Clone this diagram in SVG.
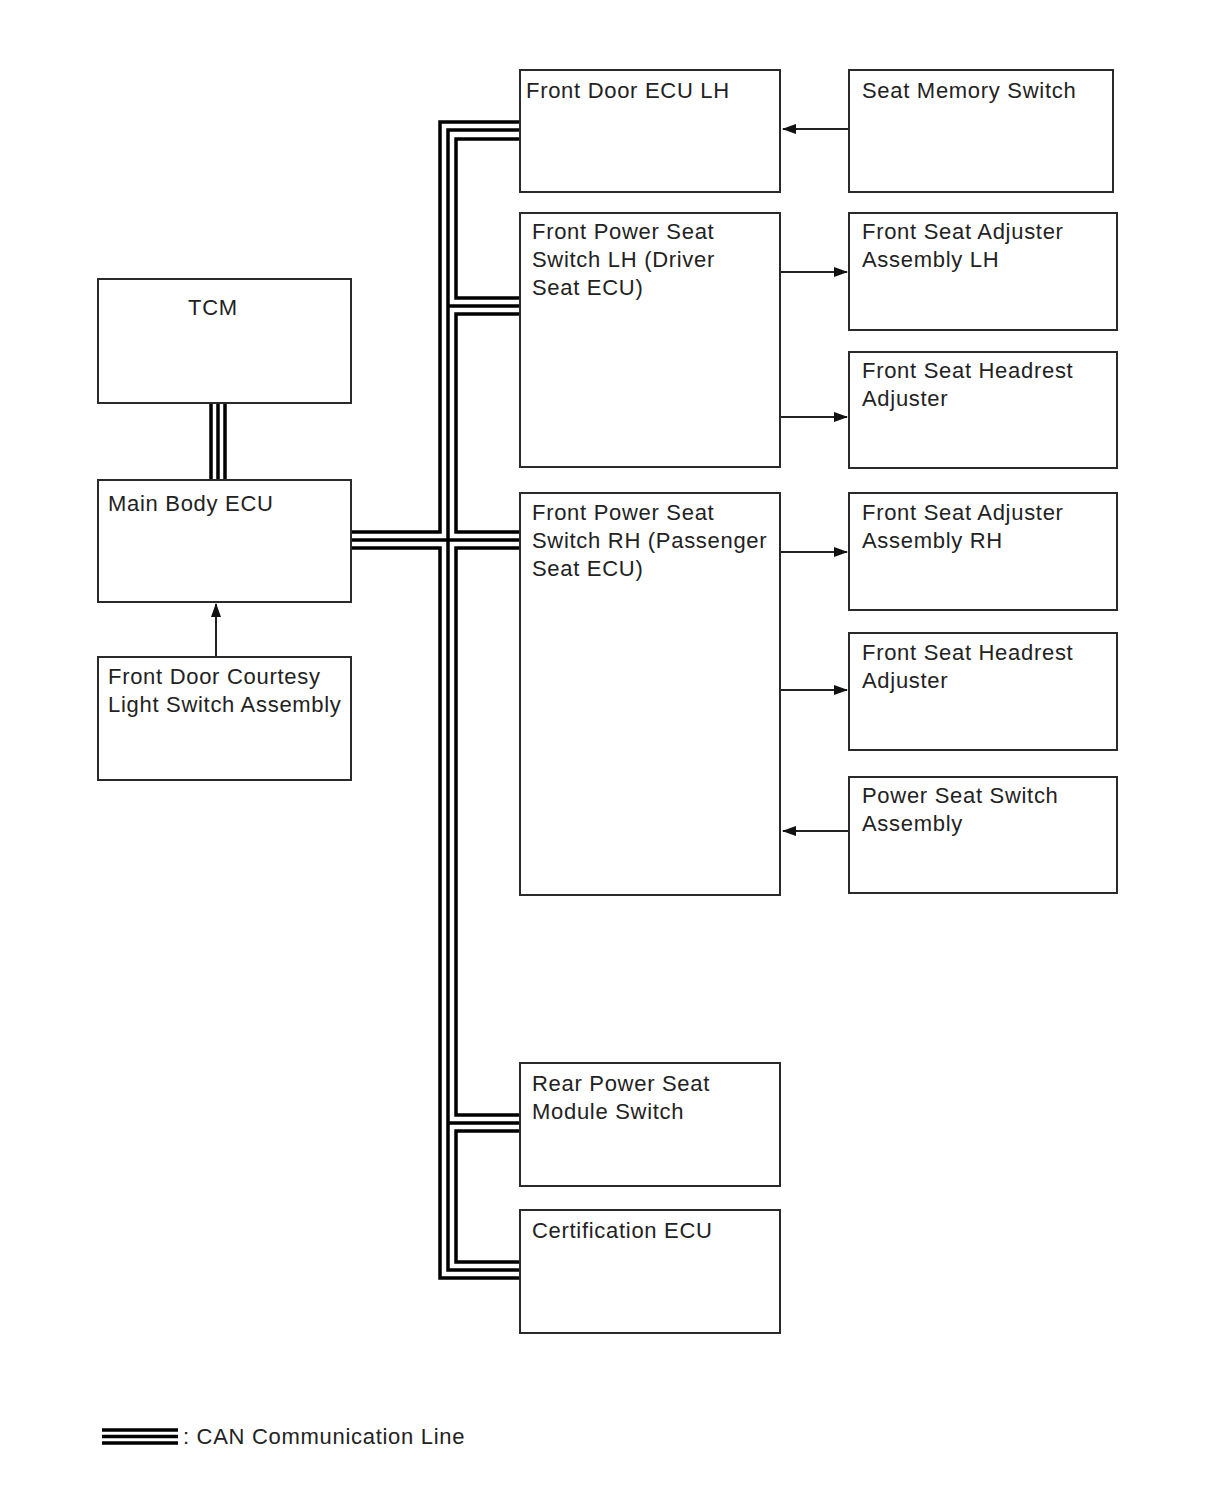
<svg xmlns="http://www.w3.org/2000/svg" width="1210" height="1498" viewBox="0 0 1210 1498">
<defs>
<style>
.box{fill:#fff;stroke:#2a2a2a;stroke-width:2}
.t{font-family:"Liberation Sans",Arial,sans-serif;font-size:22px;letter-spacing:0.7px;fill:#222}
.can{fill:none;stroke:#000;stroke-width:3.5}
.arr{fill:none;stroke:#222;stroke-width:2}
</style>
<marker id="ah" markerWidth="14" markerHeight="10" refX="13" refY="5" orient="auto" markerUnits="userSpaceOnUse">
<path d="M0,0 L14,5 L0,10 Z" fill="#111"/>
</marker>
</defs>
<rect width="1210" height="1498" fill="#fff"/>

<g id="connectors">
<path class="can" d="M520,122 H440 V532 H351 M351,548 H440 V1278 H520"/>
<path class="can" d="M520,130 H448 V1270 H520 M448,306 H520 M351,540 H520 M448,1123 H520"/>
<path class="can" d="M520,139 H456 V298 H520 M520,314 H456 V532 H520 M520,548 H456 V1115 H520 M520,1131 H456 V1262 H520"/>
<path class="can" d="M211,403 V480 M218,403 V480 M225,403 V480"/>
<path class="arr" d="M849,129 H783" marker-end="url(#ah)"/>
<path class="arr" d="M780,272 H847" marker-end="url(#ah)"/>
<path class="arr" d="M780,417 H847" marker-end="url(#ah)"/>
<path class="arr" d="M780,552 H847" marker-end="url(#ah)"/>
<path class="arr" d="M780,690 H847" marker-end="url(#ah)"/>
<path class="arr" d="M849,831 H783" marker-end="url(#ah)"/>
<path class="arr" d="M216,657 V604" marker-end="url(#ah)"/>
</g>

<g id="front-door-ecu-lh"><rect class="box" x="520" y="70" width="260" height="122"/><text class="t" x="526" y="98">Front Door ECU LH</text></g>
<g id="seat-memory-switch"><rect class="box" x="849" y="70" width="264" height="122"/><text class="t" x="862" y="98">Seat Memory Switch</text></g>
<g id="front-power-seat-lh"><rect class="box" x="520" y="213" width="260" height="254"/><text class="t" x="532" y="239">Front Power Seat</text><text class="t" x="532" y="267">Switch LH (Driver</text><text class="t" x="532" y="295">Seat ECU)</text></g>
<g id="front-seat-adjuster-lh"><rect class="box" x="849" y="213" width="268" height="117"/><text class="t" x="862" y="239">Front Seat Adjuster</text><text class="t" x="862" y="267">Assembly LH</text></g>
<g id="headrest-1"><rect class="box" x="849" y="352" width="268" height="116"/><text class="t" x="862" y="378">Front Seat Headrest</text><text class="t" x="862" y="406">Adjuster</text></g>
<g id="front-power-seat-rh"><rect class="box" x="520" y="493" width="260" height="402"/><text class="t" x="532" y="520">Front Power Seat</text><text class="t" x="532" y="548">Switch RH (Passenger</text><text class="t" x="532" y="576">Seat ECU)</text></g>
<g id="front-seat-adjuster-rh"><rect class="box" x="849" y="493" width="268" height="117"/><text class="t" x="862" y="520">Front Seat Adjuster</text><text class="t" x="862" y="548">Assembly RH</text></g>
<g id="headrest-2"><rect class="box" x="849" y="633" width="268" height="117"/><text class="t" x="862" y="660">Front Seat Headrest</text><text class="t" x="862" y="688">Adjuster</text></g>
<g id="power-seat-switch-assembly"><rect class="box" x="849" y="777" width="268" height="116"/><text class="t" x="862" y="803">Power Seat Switch</text><text class="t" x="862" y="831">Assembly</text></g>
<g id="rear-power-seat-module-switch"><rect class="box" x="520" y="1063" width="260" height="123"/><text class="t" x="532" y="1091">Rear Power Seat</text><text class="t" x="532" y="1119">Module Switch</text></g>
<g id="certification-ecu"><rect class="box" x="520" y="1210" width="260" height="123"/><text class="t" x="532" y="1238">Certification ECU</text></g>
<g id="tcm"><rect class="box" x="98" y="279" width="253" height="124"/><text class="t" x="188" y="315">TCM</text></g>
<g id="main-body-ecu"><rect class="box" x="98" y="480" width="253" height="122"/><text class="t" x="108" y="511">Main Body ECU</text></g>
<g id="front-door-courtesy"><rect class="box" x="98" y="657" width="253" height="123"/><text class="t" x="108" y="684">Front Door Courtesy</text><text class="t" x="108" y="712">Light Switch Assembly</text></g>

<g id="legend">
<path class="can" d="M102,1430 H178 M102,1436.5 H178 M102,1443 H178"/>
<text class="t" x="183" y="1444">: CAN Communication Line</text>
</g>
</svg>
